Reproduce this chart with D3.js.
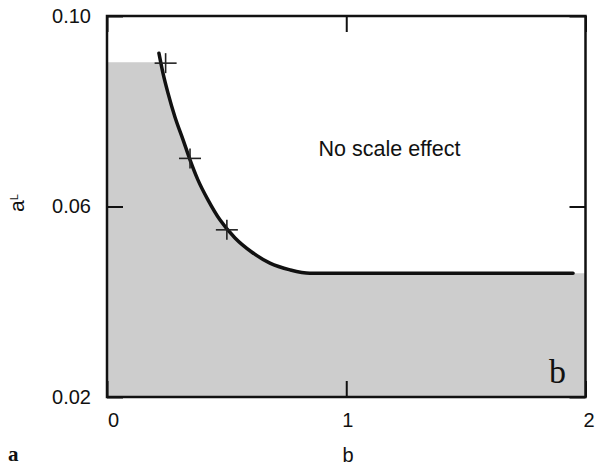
<!DOCTYPE html>
<html>
<head>
<meta charset="utf-8">
<script src="https://cdn.jsdelivr.net/npm/d3@7"></script>
<style>
  html, body { margin: 0; padding: 0; background: #fff; }
  svg { display: block; }
  text { font-family: "Liberation Sans", Arial, Helvetica, sans-serif; fill: #111; }
</style>
</head>
<body>
<svg id="chart" width="595" height="466"></svg>
<script>
// Boundary curve a_L(b): above it there is no scale effect
const curveB = [0.217, 0.234, 0.255, 0.284, 0.318, 0.347, 0.380, 0.422, 0.472, 0.535, 0.606, 0.681, 0.765, 0.848, 1.948];
const curveA = [0.0922, 0.0880, 0.0838, 0.0788, 0.0740, 0.0698, 0.0656, 0.0614, 0.0572, 0.0534, 0.0504, 0.0481, 0.0467, 0.0460, 0.0460];

// Measured points (crosses)
const pointB = [0.245, 0.347, 0.501];
const pointA = [0.0901, 0.0701, 0.0551];

// Upper limit of the shaded region
const shadeTop = 0.0903;

// Axis ticks
const xTicks = [0, 1, 2];
const yTicks = [0.02, 0.06, 0.10];
const yTickLabels = ["0.02", "0.06", "0.10"];

const svg = d3.select("#chart");

const x = d3.scaleLinear().domain([0, 2]).range([107, 585.5]);
const y = d3.scaleLinear().domain([0.02, 0.10]).range([397, 16]);

const curvePts = curveB.map((b, i) => [b, curveA[i]]);

// Shaded region under the boundary
svg.append("defs").append("clipPath").attr("id", "shadeClip")
  .append("rect")
  .attr("x", x(0)).attr("y", y(shadeTop))
  .attr("width", x(2) - x(0)).attr("height", y(0.02) - y(shadeTop));

const areaPts = [[0, curveA[0]]].concat(curvePts).concat([[2, curveA[curveA.length - 1]]]);
const area = d3.area()
  .x(d => x(d[0]))
  .y0(y(0.02))
  .y1(d => y(d[1]))
  .curve(d3.curveMonotoneX);

svg.append("path")
  .datum(areaPts)
  .attr("d", area)
  .attr("fill", "#cdcdcd")
  .attr("clip-path", "url(#shadeClip)");

// Axes with inward ticks
const tickLen = 16;
const fontSize = "20px";

const gx = svg.append("g").attr("transform", `translate(0,${y(0.02)})`)
  .call(d3.axisBottom(x).tickValues(xTicks).tickFormat(d3.format("d"))
    .tickSizeInner(-tickLen).tickSizeOuter(0).tickPadding(16));
const gxTop = svg.append("g").attr("transform", `translate(0,${y(0.10)})`)
  .call(d3.axisTop(x).tickValues(xTicks).tickFormat("")
    .tickSizeInner(-tickLen).tickSizeOuter(0));
const gy = svg.append("g").attr("transform", `translate(${x(0)},0)`)
  .call(d3.axisLeft(y).tickValues(yTicks).tickFormat((d, i) => yTickLabels[i])
    .tickSizeInner(-tickLen).tickSizeOuter(0).tickPadding(16));
const gyRight = svg.append("g").attr("transform", `translate(${x(2)},0)`)
  .call(d3.axisRight(y).tickValues(yTicks).tickFormat("")
    .tickSizeInner(-tickLen).tickSizeOuter(0));

[gx, gxTop, gy, gyRight].forEach(g => {
  g.select(".domain").remove();
  g.selectAll(".tick line").attr("stroke", "#111").attr("stroke-width", 2);
  g.selectAll(".tick text")
    .style("font-family", "'Liberation Sans', Arial, sans-serif")
    .style("font-size", fontSize)
    .attr("fill", "#111");
});
gx.selectAll(".tick text").attr("dx", d => d === 0 ? 6 : (d === 2 ? 3 : 1));

// Frame
svg.append("rect")
  .attr("x", x(0)).attr("y", y(0.10))
  .attr("width", x(2) - x(0)).attr("height", y(0.02) - y(0.10))
  .attr("fill", "none").attr("stroke", "#111").attr("stroke-width", 2.5);

// Boundary curve
const line = d3.line()
  .x(d => x(d[0]))
  .y(d => y(d[1]))
  .curve(d3.curveMonotoneX);

svg.append("path")
  .datum(curvePts)
  .attr("d", line)
  .attr("fill", "none")
  .attr("stroke", "#111")
  .attr("stroke-width", 3.5)
  .attr("stroke-linecap", "round");

// Cross markers
const crossHalfW = 11, crossHalfH = 10;
const crosses = svg.append("g");
pointB.forEach((b, i) => {
  const cx = x(b), cy = y(pointA[i]);
  crosses.append("line")
    .attr("x1", cx - crossHalfW).attr("x2", cx + crossHalfW)
    .attr("y1", cy).attr("y2", cy)
    .attr("stroke", "#222").attr("stroke-width", 1.6);
  crosses.append("line")
    .attr("x1", cx).attr("x2", cx)
    .attr("y1", cy - crossHalfH).attr("y2", cy + crossHalfH)
    .attr("stroke", "#222").attr("stroke-width", 1.6);
});

// Region annotation
svg.append("text")
  .attr("x", 389.5).attr("y", 155.5)
  .attr("text-anchor", "middle")
  .style("font-size", "21.5px")
  .text("No scale effect");

// Axis titles
svg.append("text")
  .attr("x", 348).attr("y", 462)
  .attr("text-anchor", "middle")
  .style("font-size", "20px")
  .text("b");

const yTitle = svg.append("text")
  .attr("transform", "translate(24,203) rotate(-90)")
  .attr("text-anchor", "middle")
  .style("font-size", "21px");
yTitle.append("tspan").text("a");
yTitle.append("tspan").attr("dy", -6).style("font-size", "11px").text("L");

// Panel letters
svg.append("text")
  .attr("x", 549).attr("y", 383)
  .style("font-family", "'Liberation Serif', 'Times New Roman', serif")
  .style("font-size", "34px")
  .text("b");

svg.append("text")
  .attr("x", 8).attr("y", 461)
  .style("font-family", "'Liberation Serif', 'Times New Roman', serif")
  .style("font-size", "21px")
  .style("font-weight", "bold")
  .text("a");
</script>
</body>
</html>
